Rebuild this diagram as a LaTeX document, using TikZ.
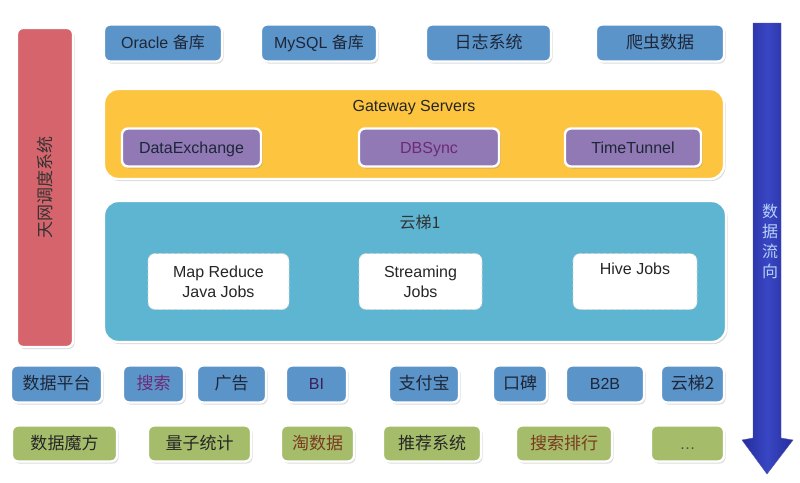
\documentclass[tikz,border=0pt]{standalone}
\usepackage{fontspec}
\setmainfont{Liberation Sans}
\newfontfamily\cjk{Noto Sans CJK SC}
\usetikzlibrary{shadows}
\definecolor{bluebox}{HTML}{5B94C8}
\definecolor{yellowbox}{HTML}{FCC43F}
\definecolor{purplebox}{HTML}{9079B5}
\definecolor{tealbox}{HTML}{5DB5D1}
\definecolor{redbar}{HTML}{D5646C}
\definecolor{greenbox}{HTML}{A5BD6B}
\definecolor{arrowblue}{HTML}{3947C4}
\definecolor{arrowdark}{HTML}{262C9C}
\definecolor{darktext}{HTML}{1E2638}
\definecolor{purpletext}{HTML}{6E2A78}
\definecolor{bitext}{HTML}{3A1F5A}
\definecolor{browntext}{HTML}{7A3A1E}
\definecolor{flowtext}{HTML}{B8D0F4}
\newcommand{\zh}[1]{{\cjk #1}}
\tikzset{
  basebox/.style={rounded corners=6pt, draw=white, line width=2.4pt,
    drop shadow={opacity=0.28, shadow xshift=1.5pt, shadow yshift=-2pt},
    inner sep=0pt, text=darktext, font=\fontsize{16}{19}\selectfont,
    text height=11.5pt, text depth=0pt},
  bluebx/.style={basebox, fill=bluebox},
  purplebx/.style={basebox, fill=purplebox},
  greenbx/.style={basebox, fill=greenbox},
  bigbx/.style={basebox, rounded corners=14pt},
  dashbx/.style={rounded corners=7pt, draw=black!18, dashed, line width=0.8pt,
    fill=white, inner sep=0pt, align=center, text=black!85,
    font=\fontsize{16}{20}\selectfont},
  lbl/.style={inner sep=0pt, text=darktext, font=\fontsize{16}{19}\selectfont}
}
\begin{document}
\begin{tikzpicture}[x=1pt,y=-1pt]
\useasboundingbox[fill=white] (0,0) rectangle (800,482);

% left scheduling bar
\node[basebox, fill=redbar, minimum width=56, minimum height=319] (tianwang) at (45,187.5) {};
\node[lbl, rotate=90, text=black!80] (tianwangtxt) at (tianwang.center) {\zh{\fontsize{17}{20}\selectfont 天网调度系统}};

% top row
\node[bluebx, minimum width=118, minimum height=37] (oracle) at (163,43) {Oracle \zh{备库}};
\node[bluebx, minimum width=116, minimum height=37] (mysql) at (319,43) {MySQL \zh{备库}};
\node[bluebx, minimum width=125, minimum height=37] (rizhi) at (488.5,43) {\zh{\fontsize{17}{20}\selectfont 日志系统}};
\node[bluebx, minimum width=128, minimum height=37] (pachong) at (660,43) {\zh{\fontsize{17}{20}\selectfont 爬虫数据}};

% gateway
\node[bigbx, fill=yellowbox, minimum width=620, minimum height=90] (gateway) at (414,134) {};
\node[lbl, text=black!85] (gatewaytxt) at (414,108) {Gateway Servers};
\node[purplebx, minimum width=139, minimum height=38] (dataex) at (191.5,147.5) {DataExchange};
\node[purplebx, minimum width=140, minimum height=38, text=purpletext] (dbsync) at (429,147.5) {DBSync};
\node[purplebx, minimum width=136, minimum height=38] (timetunnel) at (633,147.5) {TimeTunnel};

% yunti 1
\node[bigbx, fill=tealbox, minimum width=622, minimum height=141] (yunti) at (415,271.5) {};
\node[lbl, text=black!80] (yuntitxt) at (420,222) {\zh{云梯1}};
\node[dashbx, minimum width=141, minimum height=56] (mapred) at (218.5,281.5) {Map Reduce\\Java Jobs};
\node[dashbx, minimum width=123, minimum height=56] (streaming) at (420.5,281.5) {Streaming\\Jobs};
\node[dashbx, minimum width=124, minimum height=56] (hive) at (635,281.5) {Hive Jobs\\\strut};

% row 1
\tikzset{zhrow/.style={font=\cjk\fontsize{17}{20}\selectfont}}
\node[bluebx, zhrow, minimum width=91, minimum height=37] (shujupt) at (56.5,384) {数据平台};
\node[bluebx, zhrow, minimum width=61, minimum height=37, text=purpletext] (sousuo) at (153.5,384) {搜索};
\node[bluebx, zhrow, minimum width=69, minimum height=37] (guanggao) at (231.5,384) {广告};
\node[bluebx, minimum width=61, minimum height=37, text=bitext] (bi) at (316.5,384) {BI};
\node[bluebx, zhrow, minimum width=70, minimum height=37] (zhifubao) at (424,384) {支付宝};
\node[bluebx, zhrow, minimum width=54, minimum height=37] (koubei) at (520,384) {口碑};
\node[bluebx, minimum width=78, minimum height=37] (btob) at (605,384) {B2B};
\node[bluebx, zhrow, minimum width=63, minimum height=37] (yunti2) at (692.5,384) {云梯2};

% row 2
\node[greenbx, zhrow, minimum width=105, minimum height=36, text=black!85] (mofang) at (64.5,443.5) {数据魔方};
\node[greenbx, zhrow, minimum width=103, minimum height=36, text=black!85] (liangzi) at (199.5,443.5) {量子统计};
\node[greenbx, zhrow, minimum width=73, minimum height=36, text=browntext] (taoshuju) at (317.5,443.5) {淘数据};
\node[greenbx, zhrow, minimum width=98, minimum height=36, text=black!85] (tuijian) at (432,443.5) {推荐系统};
\node[greenbx, zhrow, minimum width=96, minimum height=36, text=browntext] (paihang) at (564,443.5) {搜索排行};
\node[greenbx, minimum width=73, minimum height=36, text=black!70] (more) at (687.5,443.5) {\ldots};

% data flow arrow
\shade[left color=arrowdark, right color=arrowdark, middle color=arrowblue, draw=arrowdark!80, line width=0.4pt]
  (753,23) -- (781,23) -- (781,438) -- (793,440) -- (767,474) -- (742,440) -- (753,438) -- cycle;
\node[inner sep=0pt, align=center, text=flowtext, font=\cjk\fontsize{16}{20}\selectfont] (flowtxt) at (770,241) {数\\据\\流\\向};
\end{tikzpicture}
\end{document}
